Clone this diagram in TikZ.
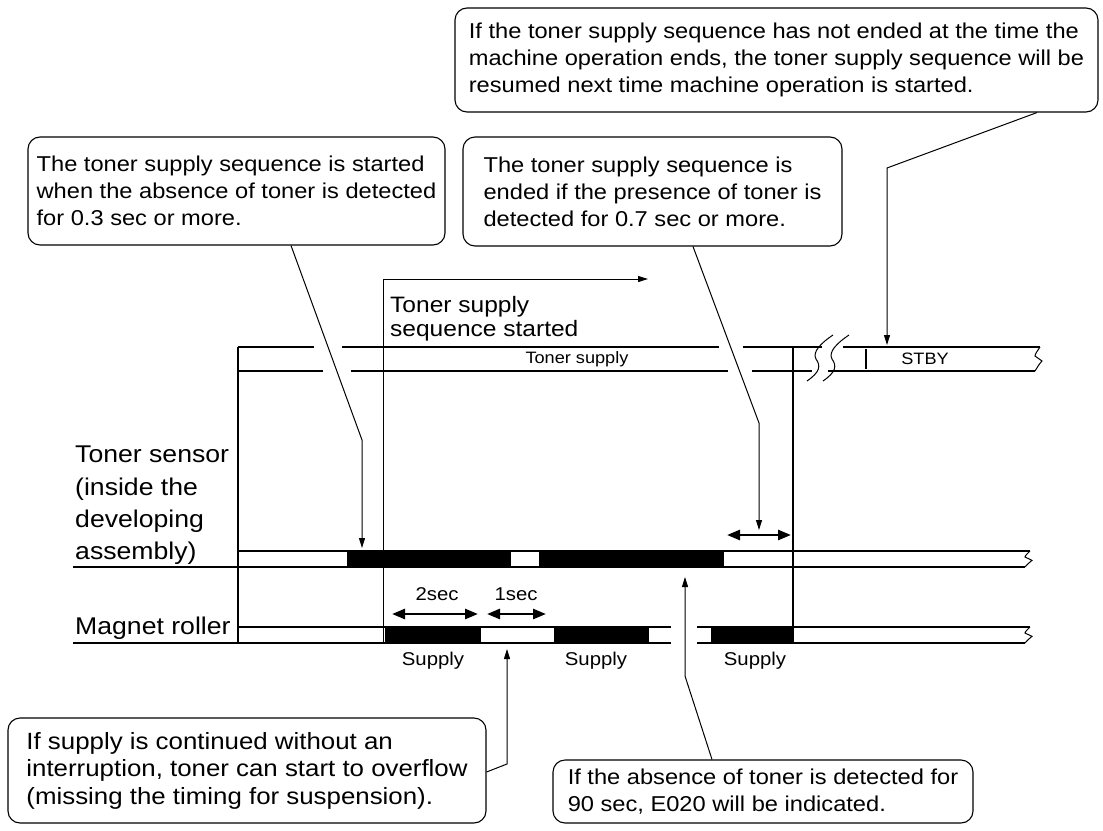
\documentclass[tikz,border=0pt]{standalone}
\usepackage{fontspec}
\setmainfont{Liberation Sans}[FakeStretch=1.1]
\usetikzlibrary{arrows.meta}

\tikzset{
  note/.style={draw,line width=1.1pt,rounded corners=12pt,align=left,inner sep=0pt,
    font=\fontsize{21.5}{27}\selectfont},
  lead/.style={line width=1pt,-{Triangle[length=10pt,width=6pt]}},
  span/.style={line width=2.6pt,{Triangle[length=13pt,width=10pt]}-{Triangle[length=13pt,width=10pt]}},
  row/.style={line width=1.3pt},
  small/.style={font=\fontsize{16.5}{19}\selectfont,inner sep=0pt},
  tag/.style={font=\fontsize{18.5}{21}\selectfont,inner sep=0pt},
  big/.style={font=\fontsize{24.2}{32.3}\selectfont,align=left,inner sep=0pt},
  zend/.pic={\draw[line width=1pt] (0,0) .. controls (-2,3) and (-5,7) .. (-5,9) -- (2,14)
    .. controls (-1,17) and (-3,21) .. (-5,24);},
  brk/.pic={\draw[line width=1pt] (0,0) .. controls (13,-9) and (14,-15) .. (9,-22)
    .. controls (5,-29) and (14,-38) .. (26,-46);}
}

\begin{document}
\begin{tikzpicture}[x=1pt,y=-1pt]
\useasboundingbox (0,0) rectangle (1103,830);
% black periods
\foreach \a/\b in {347/511,539/724} \fill (\a,551) rectangle (\b,567);
\foreach \a/\b in {385/481,554/649,711/793} \fill (\a,627) rectangle (\b,643);
% toner supply row
\draw[row] (238,347) -- (314,347) (342,347) -- (719,347) (743,347) -- (822,347) (843,347) -- (1040,347);
\draw[row] (238,371) -- (323,371) (351,371) -- (728,371) (752,371) -- (812,371) (828,371) -- (1035,371);
\pic at (807,381) {brk};
\pic at (823,381) {brk};
\pic at (1040,347) {zend};
\draw[row] (866,349) -- (866,369);
\node[small] (supplyLbl) at (577,359) {Toner supply};
\node[small] (stby) at (925,359) {STBY};
% toner sensor row
\draw[row] (238,551) -- (1030,551) (73,567) -- (1025,567);
\pic[yscale=0.667] at (1030,551) {zend};
\node[big,anchor=north west] (sensorLbl) at (75,446) {Toner sensor\\(inside the\\developing\\assembly)};
% magnet roller row
\draw[row] (238,627) -- (671,627) (697,627) -- (1030,627) (73,643) -- (671,643) (697,643) -- (1025,643);
\pic[yscale=0.667] at (1030,627) {zend};
\node[big,anchor=base west] (rollerLbl) at (75,634) {Magnet roller};
% verticals
\draw[row] (238,347) -- (238,643);
\draw[row] (793,347) -- (793,643);
\draw[lead] (383,643) -- (383,279) -- (648,279);
\node[big,anchor=north west,font=\fontsize{22.3}{24}\selectfont] (seqLbl) at (390,296) {Toner supply\\sequence started};
% timings
\draw[span] (392,614) -- (478,614);
\draw[span] (487,614) -- (546,614);
\draw[span] (727,535) -- (791,535);
\node[tag] (twoSec) at (437,594) {2sec};
\node[tag] (oneSec) at (516,594) {1sec};
\foreach \x in {433,596,755} \node[tag] at (\x,661) {Supply};
% callouts
\node[note,minimum width=417,minimum height=108] (noteStart) at (236.5,191)
  {The toner supply sequence is started\\when the absence of toner is detected\\for 0.3 sec or more.};
\node[note,minimum width=379,minimum height=109] (noteEnd) at (652.5,191.5)
  {The toner supply sequence is\\ended if the presence of toner is\\detected for 0.7 sec or more.};
\node[note,minimum width=643,minimum height=104] (noteResume) at (776.5,60)
  {If the toner supply sequence has not ended at the time the\\machine operation ends, the toner supply sequence will be\\resumed next time machine operation is started.};
\node[note,minimum width=478,minimum height=105,font=\fontsize{23.5}{27.5}\selectfont] (noteOverflow) at (247,770.5)
  {If supply is continued without an\\interruption, toner can start to overflow\\(missing the timing for suspension).};
\node[note,minimum width=420,minimum height=63] (noteError) at (763,791.5)
  {If the absence of toner is detected for\\90 sec, E020 will be indicated.};
\coordinate (aBend) at (362,440);
\coordinate (aTip) at (362,548);
\coordinate (bBend) at (759,423);
\coordinate (bTip) at (759,530);
\coordinate (cBend) at (887,168);
\coordinate (cTip) at (887,345);
\coordinate (dBend) at (507,764);
\coordinate (dTip) at (507,649);
\coordinate (eBend) at (685,676);
\coordinate (eTip) at (685,577);
\draw[lead] ([xshift=54.5]noteStart.south) -- (aBend) -- (aTip);
\draw[lead] ([xshift=40.5]noteEnd.south) -- (bBend) -- (bTip);
\draw[lead] ([xshift=260.5]noteResume.south) -- (cBend) -- (cTip);
\draw[lead] ([yshift=-1.5]noteOverflow.east) -- (dBend) -- (dTip);
\draw[lead] ([xshift=-51]noteError.north) -- (eBend) -- (eTip);
\end{tikzpicture}
\end{document}
